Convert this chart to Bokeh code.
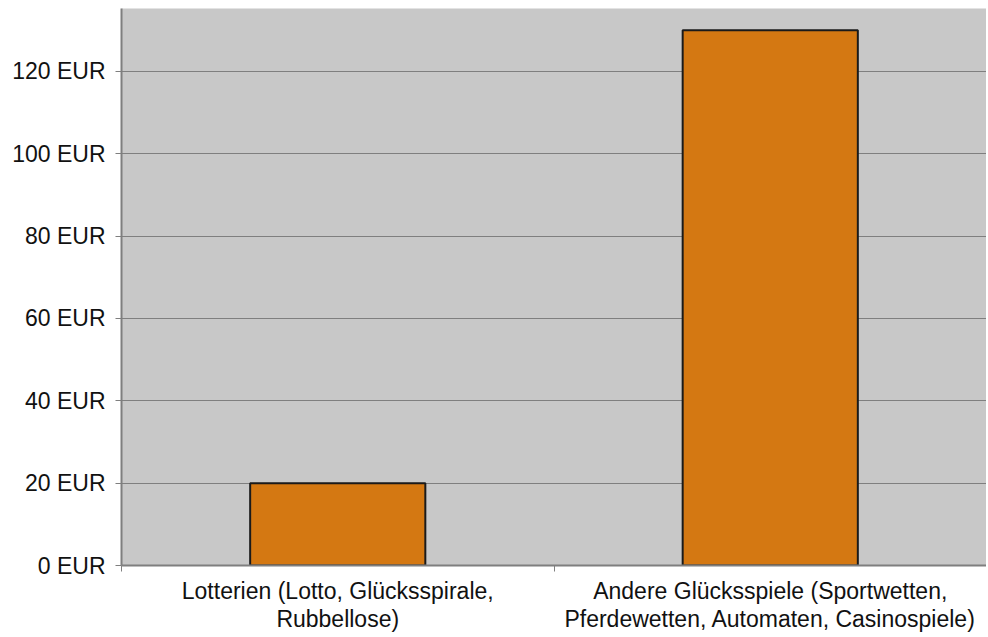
from bokeh.plotting import figure
from bokeh.models import FixedTicker, Range1d, ColumnDataSource
from bokeh.embed import file_html
from bokeh.resources import INLINE

categories = ["Lotterien (Lotto, Glücksspirale,\nRubbellose)",
              "Andere Glücksspiele (Sportwetten,\nPferdewetten, Automaten, Casinospiele)"]
values = [20, 130]
y_ticks = [0, 20, 40, 60, 80, 100, 120]
y_tick_labels = ["0 EUR", "20 EUR", "40 EUR", "60 EUR", "80 EUR", "100 EUR", "120 EUR"]

xs = [i + 0.5 for i in range(len(categories))]
src = ColumnDataSource(dict(x=xs, top=values))

FONT = "Liberation Sans"

p = figure(width=986, height=635, output_backend="svg", toolbar_location=None,
           x_range=Range1d(0, len(categories)), y_range=Range1d(0, 135.3),
           min_border_top=8, min_border_left=121, min_border_right=0, min_border_bottom=0)
p.background_fill_color = "#c8c8c8"
p.border_fill_color = "white"
p.outline_line_color = None

p.vbar(x="x", top="top", width=0.405, bottom=0, source=src,
       fill_color="#d47812", line_color="#1a1a1a", line_width=2)

p.xgrid.visible = False
p.ygrid.ticker = FixedTicker(ticks=y_ticks)
p.ygrid.grid_line_color = "#7f7f7f"
p.ygrid.grid_line_width = 1

p.yaxis.ticker = FixedTicker(ticks=y_ticks)
p.yaxis.major_label_overrides = {t: l for t, l in zip(y_ticks, y_tick_labels)}
p.yaxis.major_label_text_font = FONT
p.yaxis.major_label_text_font_size = "23px"
p.yaxis.major_label_text_color = "#111111"
p.yaxis.axis_line_color = "#7f7f7f"
p.yaxis.axis_line_width = 2
p.yaxis.major_tick_line_color = "#7f7f7f"
p.yaxis.major_tick_out = 6
p.yaxis.major_tick_in = 0
p.yaxis.minor_tick_line_color = None
p.yaxis.major_label_standoff = 10

p.xaxis.ticker = FixedTicker(ticks=xs, minor_ticks=list(range(len(categories) + 1)))
p.xaxis.major_label_overrides = {x: c for x, c in zip(xs, categories)}
p.xaxis.major_label_text_font = FONT
p.xaxis.major_label_text_font_size = "23px"
p.xaxis.major_label_text_color = "#111111"
p.xaxis.major_label_text_line_height = 1.1
p.xaxis.major_tick_line_color = None
p.xaxis.major_tick_out = 0
p.xaxis.major_tick_in = 0
p.xaxis.minor_tick_line_color = "#7f7f7f"
p.xaxis.minor_tick_out = 6
p.xaxis.minor_tick_in = 0
p.xaxis.axis_line_color = "#7f7f7f"
p.xaxis.axis_line_width = 2
p.xaxis.major_label_standoff = 6

open("out.html", "w").write(file_html(p, INLINE))
